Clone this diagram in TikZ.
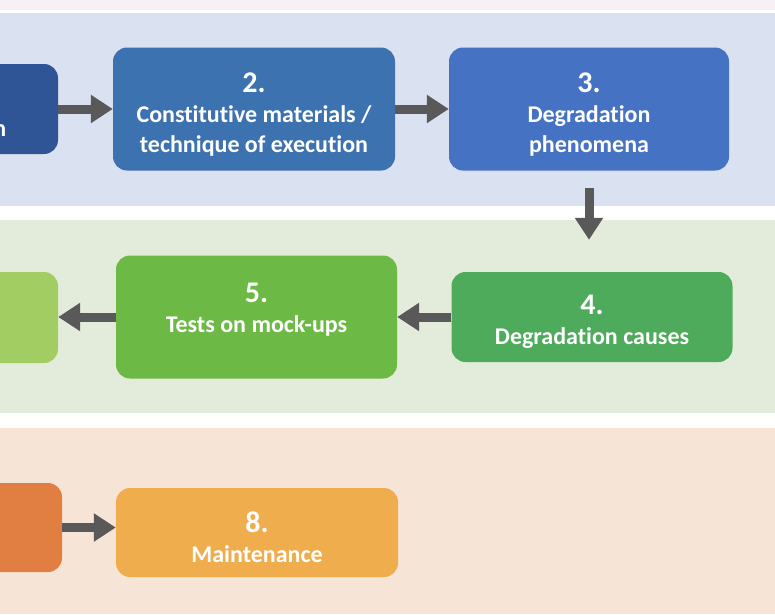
\documentclass[tikz,border=0pt]{standalone}
\usepackage{fontspec}
\setmainfont[Ligatures=NoCommon]{Carlito}
\usetikzlibrary{arrows.meta}
\definecolor{topstrip}{HTML}{F5F1F5}
\definecolor{blueband}{HTML}{DAE1F0}
\definecolor{greenband}{HTML}{E3ECDA}
\definecolor{orangeband}{HTML}{F6E4D6}
\definecolor{navy}{HTML}{2F5597}
\definecolor{steel}{HTML}{3D72B0}
\definecolor{royal}{HTML}{4672C3}
\definecolor{leaf}{HTML}{4EAB5B}
\definecolor{grass}{HTML}{6CB945}
\definecolor{lime}{HTML}{A1CD62}
\definecolor{rust}{HTML}{E07F41}
\definecolor{amber}{HTML}{F0AD4E}
\definecolor{arrowgray}{HTML}{595959}
\newcommand{\stagenum}[1]{{\fontsize{30}{30}\selectfont\rule{0pt}{30pt}#1}}
\tikzset{stage/.style={rounded corners=14pt,text=white,inner sep=0pt,
        align=center,font=\bfseries\fontsize{24}{30}\selectfont},
    flow/.style={draw=arrowgray,line width=9pt,
        -{Triangle[length=22pt,width=27pt]}}}

\begin{document}
\begin{tikzpicture}[x=1pt,y=-1pt]
	\useasboundingbox (0,0) rectangle (775,614);
	\clip (0,0) rectangle (775,614);
	\fill[white] (0,0) rectangle (775,614);
	% bands
	\fill[topstrip] (0,0) rectangle (775,10);
	\fill[blueband] (0,13) rectangle (775,206);
	\fill[greenband] (0,220) rectangle (775,413);
	\fill[orangeband] (0,428) rectangle (775,614);

	\node[stage,fill=navy,minimum width=118pt,minimum height=90pt] (b1) at (-1,109) {};
	\node[stage,anchor=base east] (b1t) at (6.5,136) {n};
	\node[stage,fill=steel,minimum width=282pt,minimum height=123pt] (b2) at (254,109)
		{\stagenum{2.}\\Constitutive materials /\\technique of execution};
	\node[stage,fill=royal,minimum width=280pt,minimum height=123pt] (b3) at (589,109)
		{\stagenum{3.}\\Degradation\\phenomena};
	\node[stage,fill=leaf,minimum width=281pt,minimum height=90pt] (b4) at (592,317)
		{\stagenum{4.}\\Degradation causes};
	\node[stage,fill=grass,minimum width=281pt,minimum height=123pt,text depth=29pt] (b5) at (256.5,317)
		{\stagenum{5.}\\Tests on mock-ups};
	\node[stage,fill=lime,minimum width=118pt,minimum height=91pt] (b6) at (-1,317.5) {};
	\node[stage,fill=rust,minimum width=122pt,minimum height=89pt] (b7) at (1,527.5) {};
	\node[stage,fill=amber,minimum width=282pt,minimum height=89pt] (b8) at (257,532.5)
		{\stagenum{8.}\\Maintenance};

	\draw[flow] (b1) -- (b2);
	\draw[flow] (b2) -- (b3);
	\draw[flow,shorten <=17pt,shorten >=32pt] (b3.south) -- (b3.south |- b4.north);
	\draw[flow] (b4.west) -- (b4.west -| b5.east);
	\draw[flow] (b5.west) -- (b5.west -| b6.east);
	\draw[flow] (b7.east) -- (b7.east -| b8.west);
\end{tikzpicture}
\end{document}
